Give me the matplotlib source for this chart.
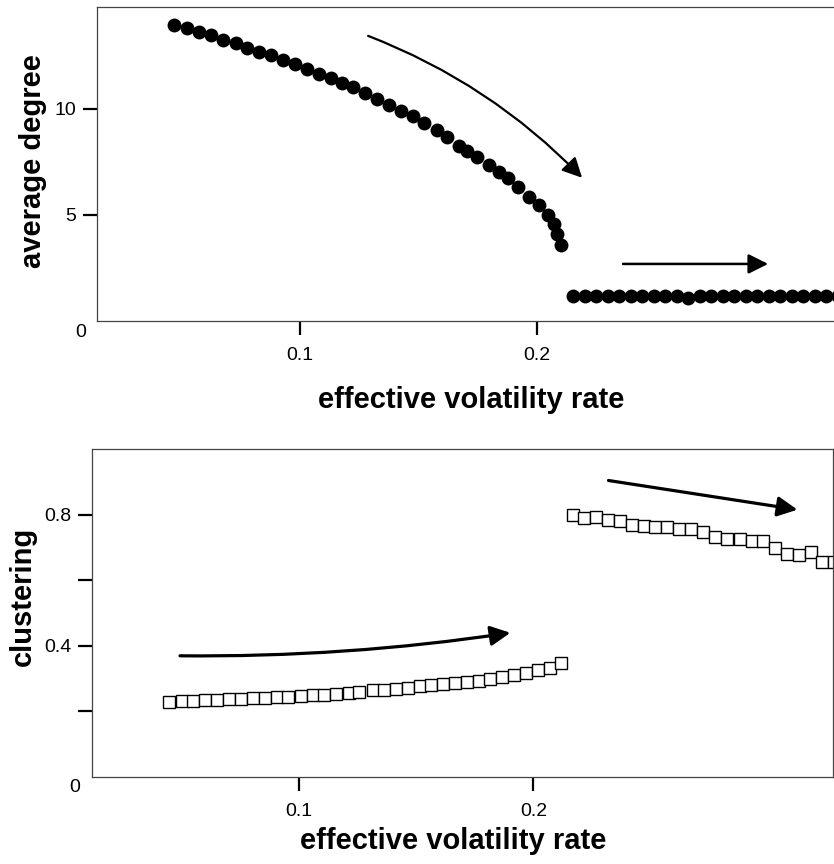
import matplotlib
matplotlib.use("Agg")
import matplotlib.pyplot as plt

plt.rcParams['font.family'] = ['Liberation Sans', 'DejaVu Sans']

# ---------------- data ----------------
# top panel: average degree, high-degree branch
deg_hi_x = [0.0468, 0.0524, 0.0575, 0.0623, 0.0676, 0.0730, 0.0778, 0.0826,
            0.0876, 0.0927, 0.0978, 0.1028, 0.1079, 0.1130, 0.1177, 0.1225,
            0.1274, 0.1326, 0.1377, 0.1425, 0.1478, 0.1523, 0.1577, 0.1622,
            0.1672, 0.1703, 0.1748, 0.1796, 0.1841, 0.1879, 0.1921, 0.1966,
            0.2010, 0.2048, 0.2072, 0.2086, 0.2100]
deg_hi_y = [13.96, 13.81, 13.62, 13.46, 13.25, 13.10, 12.89, 12.70,
            12.53, 12.31, 12.11, 11.89, 11.65, 11.43, 11.24, 11.02,
            10.74, 10.46, 10.16, 9.92, 9.64, 9.33, 8.98, 8.65,
            8.25, 8.03, 7.72, 7.37, 7.00, 6.73, 6.31, 5.86,
            5.46, 5.00, 4.58, 4.10, 3.57]
# top panel: low-degree branch
deg_lo_x = [0.2153, 0.2202, 0.2250, 0.2299, 0.2347, 0.2396, 0.2444, 0.2493,
            0.2541, 0.2590, 0.2638, 0.2687, 0.2735, 0.2784, 0.2832, 0.2881,
            0.2929, 0.2978, 0.3026, 0.3075, 0.3123, 0.3172, 0.3220, 0.3269]
deg_lo_y = [1.20, 1.20, 1.20, 1.20, 1.20, 1.20, 1.20, 1.20,
            1.19, 1.18, 1.10, 1.18, 1.20, 1.20, 1.20, 1.20,
            1.20, 1.20, 1.20, 1.20, 1.20, 1.20, 1.20, 1.20]

# bottom panel: clustering, low branch
clu_lo_x = [0.0444, 0.0499, 0.0548, 0.0598, 0.0650, 0.0701, 0.0752, 0.0803,
            0.0855, 0.0906, 0.0954, 0.1006, 0.1057, 0.1108, 0.1158, 0.1211,
            0.1256, 0.1315, 0.1363, 0.1415, 0.1463, 0.1514, 0.1563, 0.1614,
            0.1665, 0.1717, 0.1766, 0.1816, 0.1868, 0.1919, 0.1969, 0.2018,
            0.2070, 0.2120]
clu_lo_y = [0.230, 0.232, 0.233, 0.234, 0.235, 0.238, 0.239, 0.240,
            0.242, 0.244, 0.245, 0.247, 0.249, 0.251, 0.254, 0.257,
            0.260, 0.264, 0.266, 0.269, 0.272, 0.276, 0.280, 0.283,
            0.286, 0.290, 0.294, 0.299, 0.305, 0.311, 0.318, 0.325,
            0.333, 0.347]
# bottom panel: clustering, high branch
clu_hi_x = [0.2168, 0.2218, 0.2269, 0.2318, 0.2369, 0.2422, 0.2471, 0.2521,
            0.2571, 0.2624, 0.2674, 0.2725, 0.2778, 0.2828, 0.2882, 0.2932,
            0.2982, 0.3034, 0.3084, 0.3134, 0.3184, 0.3234, 0.3283]
clu_hi_y = [0.800, 0.790, 0.792, 0.783, 0.780, 0.769, 0.765, 0.762,
            0.762, 0.756, 0.756, 0.747, 0.731, 0.727, 0.727, 0.719,
            0.719, 0.698, 0.681, 0.677, 0.687, 0.657, 0.657]

x_ticks = [0.1, 0.2]
x_ticklabels = ["0.1", "0.2"]
deg_yticks = [5, 10]
deg_yticklabels = ["5", "10"]
clu_yticks = [0.2, 0.4, 0.6, 0.8]
clu_yticklabels = ["", "0.4", "", "0.8"]

xlabel = "effective volatility rate"

# ---------------- figure ----------------
W, H = 834, 864
fig = plt.figure(figsize=(W / 100, H / 100), dpi=100)

ax1 = fig.add_axes([97 / W, 1 - 321 / H, (834 - 97) / W, 314 / H])
ax2 = fig.add_axes([92 / W, 1 - 777 / H, (833 - 92) / W, 328 / H])

spine_col = '#444444'
for ax in (ax1, ax2):
    for s in ax.spines.values():
        s.set_linewidth(0.9)
        s.set_color(spine_col)
    ax.tick_params(axis='both', direction='out', length=10, width=1.6,
                   colors='black', labelsize=14)
    ax.tick_params(axis='x', pad=9)
    ax.tick_params(axis='y', pad=5)
    ax.set_xticks(x_ticks)
    ax.set_xticklabels(x_ticklabels)
ax1.spines['right'].set_visible(False)

# top panel
ax1.plot(deg_hi_x, deg_hi_y, 'o', color='black', ms=10, mew=0)
ax1.plot(deg_lo_x, deg_lo_y, 'o', color='black', ms=10, mew=0)
ax1.set_xlim(0.0143, 0.3253)
ax1.set_ylim(0, 14.8)
ax1.set_yticks(deg_yticks)
ax1.set_yticklabels(deg_yticklabels)
ax1.text(-0.015, -0.008, "0", transform=ax1.transAxes, ha='right', va='top',
         fontsize=14)

# bottom panel
ax2.plot(clu_lo_x, clu_lo_y, 's', mfc='white', mec='black', ms=8, mew=1.0)
ax2.plot(clu_hi_x, clu_hi_y, 's', mfc='white', mec='black', ms=8, mew=1.0)
ax2.set_xlim(0.0115, 0.328)
ax2.set_ylim(0, 1.0)
ax2.set_yticks(clu_yticks)
ax2.set_yticklabels(clu_yticklabels)
ax2.text(-0.016, -0.006, "0", transform=ax2.transAxes, ha='right', va='top',
         fontsize=14)

# axis labels
fig.text(33 / W, 1 - 161 / H, "average degree", rotation=90, ha='center',
         va='center', fontsize=21, fontweight='bold')
fig.text(23 / W, 1 - 596 / H, "clustering", rotation=90, ha='center',
         va='center', fontsize=21, fontweight='bold')
fig.text(471 / W, 1 - 400 / H, xlabel, ha='center', va='center',
         fontsize=21, fontweight='bold')
fig.text(453 / W, 1 - 841 / H, xlabel, ha='center', va='center',
         fontsize=21, fontweight='bold')

# arrows
def arrow(ax, start, end, rad, lw, hl=1.2, hw=0.6):
    ax.annotate("", xy=end, xytext=start, xycoords='data', textcoords='data',
                arrowprops=dict(arrowstyle=f'-|>,head_length={hl},head_width={hw}',
                                color='black', lw=lw, shrinkA=0, shrinkB=0,
                                mutation_scale=10,
                                connectionstyle=f'arc3,rad={rad}'),
                annotation_clip=False)

arrow(ax1, (0.1287, 13.44), (0.2190, 6.75), -0.11, 1.6)
arrow(ax1, (0.2363, 2.69), (0.2975, 2.69), 0.0, 1.8)
arrow(ax2, (0.0491, 0.3695), (0.1902, 0.4397), 0.04, 2.3)
arrow(ax2, (0.2321, 0.904), (0.3128, 0.815), 0.0, 2.3)

fig.savefig("out.png", dpi=100)
